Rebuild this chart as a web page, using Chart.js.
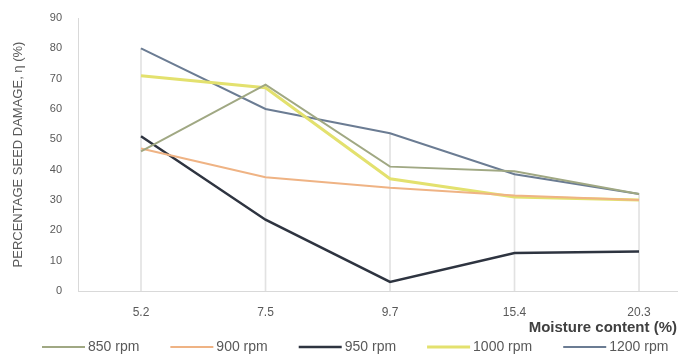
<!DOCTYPE html>
<html>
<head>
<meta charset="utf-8">
<script src="https://cdn.jsdelivr.net/npm/chart.js@4/dist/chart.umd.min.js"></script>
<style>
  html, body { margin: 0; padding: 0; background: #ffffff; }
  #wrap { width: 695px; height: 355px; position: relative; }
</style>
</head>
<body>
<div id="wrap"><canvas id="c" width="695" height="355"></canvas></div>
<script>
// ---- data ----
const categories = ['5.2', '7.5', '9.7', '15.4', '20.3'];   // moisture content (%)
const seriesNames = ['850 rpm', '900 rpm', '950 rpm', '1000 rpm', '1200 rpm'];
const rpm850  = [46, 68, 41, 39.5, 32];
const rpm900  = [47, 37.5, 34, 31.5, 30];
const rpm950  = [51, 23.5, 3, 12.5, 13];
const rpm1000 = [71, 67, 37, 31, 30];
const rpm1200 = [80, 60, 52, 38.5, 32];
const yTicks  = [0, 10, 20, 30, 40, 50, 60, 70, 80, 90];

const seriesValues = [rpm850, rpm900, rpm950, rpm1000, rpm1200];
const colors = ['#a0a883', '#efb384', '#2e3440', '#e3e16e', '#6b7c93'];
const widths = [2, 2, 2.5, 3, 2];

const toPoints = arr => arr.map((v, i) => ({ x: i, y: v }));
// drop lines: from the highest series value at each category down to the axis
const dropTops = categories.map((c, i) => Math.max(...seriesValues.map(s => s[i])));

const datasets = seriesNames.map((name, k) => ({
  type: 'line',
  label: name,
  data: toPoints(seriesValues[k]),
  borderColor: colors[k],
  backgroundColor: colors[k],
  borderWidth: widths[k],
  pointRadius: 0,
  tension: 0,
  fill: false,
  order: 1
}));
datasets.push({
  type: 'bar',
  label: 'drop',
  data: toPoints(dropTops),
  backgroundColor: '#e2e2e2',
  barThickness: 1,
  order: 10
});

const FONT = "'Liberation Sans', Arial, sans-serif";

const legendPlugin = {
  id: 'customLegend',
  afterDraw(chart) {
    const ctx = chart.ctx;
    ctx.save();
    ctx.font = '14px ' + FONT;
    ctx.textBaseline = 'middle';
    ctx.textAlign = 'left';
    let x = 42;
    const y = 347;
    chart.data.datasets.forEach(ds => {
      if (ds.type !== 'line') return;
      ctx.strokeStyle = ds.borderColor;
      ctx.lineWidth = ds.borderWidth;
      ctx.beginPath();
      ctx.moveTo(x, y);
      ctx.lineTo(x + 43, y);
      ctx.stroke();
      ctx.fillStyle = '#595959';
      ctx.fillText(ds.label, x + 46, y);
      x += 43 + 3 + ctx.measureText(ds.label).width + 31;
    });
    ctx.restore();
  }
};

new Chart(document.getElementById('c'), {
  type: 'line',
  data: { datasets },
  plugins: [legendPlugin],
  options: {
    responsive: false,
    animation: false,
    layout: { padding: { top: 18, right: 18, bottom: 18, left: 0 } },
    plugins: { legend: { display: false }, tooltip: { enabled: false } },
    scales: {
      x: {
        type: 'linear',
        min: -0.506,
        max: 4.305,
        offset: false,
        afterBuildTicks: s => { s.ticks = categories.map((c, i) => ({ value: i })); },
        afterFit: s => { s.height = 46; },
        grid: { display: false, drawTicks: false },
        border: { display: true, color: '#d9d9d9', width: 1 },
        ticks: {
          callback: v => categories[v],
          font: { family: FONT, size: 12 },
          color: '#595959',
          padding: 14,
          maxRotation: 0,
          autoSkip: false
        },
        title: {
          display: true,
          text: 'Moisture content (%)',
          align: 'end',
          color: '#404040',
          font: { family: FONT, size: 15, weight: 'bold' },
          padding: { top: 0, bottom: 0 }
        }
      },
      y: {
        min: 0,
        max: 90,
        afterBuildTicks: s => { s.ticks = yTicks.map(v => ({ value: v })); },
        afterFit: s => { s.width = 78; s.paddingTop = 6; s.paddingBottom = 6; },
        grid: { display: false, drawTicks: false },
        border: { display: true, color: '#d9d9d9', width: 1 },
        ticks: {
          font: { family: FONT, size: 11 },
          color: '#595959',
          padding: 16
        },
        title: {
          display: true,
          text: 'PERCENTAGE SEED DAMAGE, η (%)',
          color: '#595959',
          font: { family: FONT, size: 13 },
          padding: { top: 11, bottom: 0 }
        }
      }
    }
  }
});
</script>
</body>
</html>
